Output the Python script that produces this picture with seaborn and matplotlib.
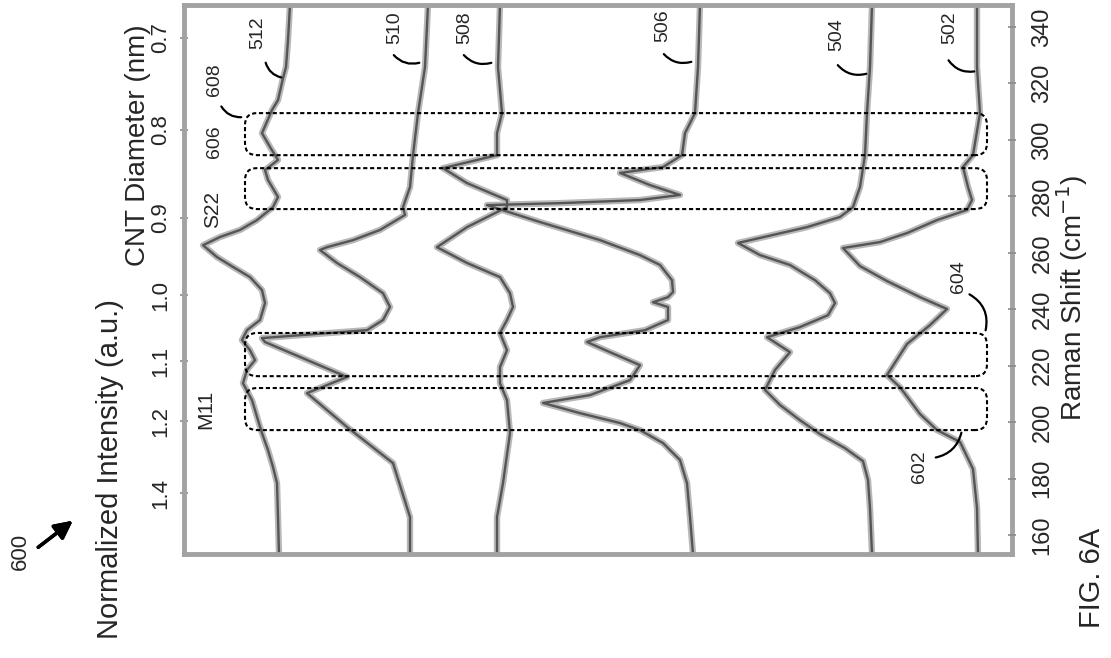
import matplotlib
matplotlib.use("Agg")
import matplotlib.pyplot as plt
import seaborn as sns
import pandas as pd
from matplotlib.patches import FancyBboxPatch
from matplotlib import font_manager

sns.set_theme(style="white")
plt.rcParams['font.family'] = ['Liberation Sans', 'DejaVu Sans']

_names = {f.name for f in font_manager.fontManager.ttflist}
NARROW = 'Liberation Sans Narrow' if 'Liberation Sans Narrow' in _names else 'Liberation Sans'

# ---- spectra: Raman shift (cm^-1) and stacked normalized intensity (a.u.) ----
raman_512 = [347.8, 335.4, 325.8, 321.9, 314.1, 310.6, 302.4, 297.5, 292.9, 289.3, 285.8, 279.8, 276.2,
             271.6, 268.1, 265.6, 262.7, 258.5, 255.0, 251.4, 246.8, 242.2, 236.2, 232.6, 229.1, 225.5,
             222.0, 218.5, 213.8, 207.8, 200.7, 196.1, 190.1, 184.1, 178.4, 166.4, 153.3]
int_512 = [7.22, 7.24, 7.26, 7.29, 7.34, 7.40, 7.50, 7.42, 7.34, 7.47, 7.44, 7.34, 7.39,
           7.55, 7.72, 7.92, 8.09, 7.95, 7.79, 7.62, 7.50, 7.47, 7.52, 7.65, 7.70, 7.62,
           7.57, 7.65, 7.69, 7.60, 7.54, 7.50, 7.44, 7.39, 7.35, 7.34, 7.33]

raman_510 = [347.8, 325.8, 309.5, 294.6, 283.3, 276.2, 273.4, 268.1, 264.5, 262.0, 261.0, 256.4, 251.4,
             245.7, 240.8, 236.2, 232.6, 229.8, 228.4, 216.0, 210.3, 198.3, 185.5, 166.4, 153.3]
int_510 = [5.84, 5.87, 5.94, 5.99, 6.02, 6.09, 6.07, 6.32, 6.59, 6.85, 6.92, 6.75, 6.52,
           6.29, 6.22, 6.29, 6.45, 7.50, 7.47, 6.65, 7.05, 6.65, 6.19, 6.02, 6.02]

raman_508 = [347.8, 325.8, 309.5, 302.4, 294.6, 290.0, 284.7, 278.7, 276.2, 269.1, 262.0, 256.4, 251.4,
             245.7, 240.8, 236.2, 231.6, 225.5, 219.5, 213.8, 207.8, 196.1, 178.4, 166.4, 153.3]
int_508 = [5.12, 5.14, 5.10, 5.15, 5.15, 5.69, 5.45, 5.05, 5.05, 5.45, 5.75, 5.45, 5.12,
           5.02, 4.99, 5.05, 5.12, 5.05, 5.12, 5.12, 5.05, 5.02, 5.09, 5.15, 5.15]

raman_506 = [347.8, 325.8, 309.5, 302.4, 294.6, 290.4, 288.3, 284.0, 280.5, 278.7, 277.6, 276.9, 270.9,
             264.5, 259.2, 255.7, 250.3, 246.1, 244.3, 242.5, 240.8, 236.2, 232.6, 230.1, 228.4, 224.8,
             220.2, 214.9, 209.6, 206.8, 203.2, 199.7, 197.2, 192.6, 186.6, 178.4, 166.4, 153.3]
int_506 = [3.12, 3.14, 3.17, 3.27, 3.30, 3.49, 3.92, 3.62, 3.32, 3.72, 4.52, 5.25, 4.72,
           4.12, 3.72, 3.52, 3.40, 3.39, 3.44, 3.59, 3.44, 3.44, 3.67, 4.12, 4.25, 4.02,
           3.72, 3.82, 4.22, 4.69, 4.32, 3.92, 3.72, 3.49, 3.32, 3.25, 3.22, 3.19]

raman_504 = [347.8, 325.8, 309.5, 294.6, 283.3, 276.2, 272.7, 269.1, 263.5, 259.2, 255.7, 250.3, 245.7,
             242.2, 237.9, 233.7, 230.1, 224.8, 218.5, 211.4, 206.1, 200.7, 195.8, 190.8, 186.2, 179.5,
             169.6, 153.3]
int_504 = [1.40, 1.42, 1.45, 1.47, 1.52, 1.59, 1.72, 2.05, 2.74, 2.52, 2.22, 1.97, 1.82,
           1.77, 1.84, 2.12, 2.45, 2.22, 2.37, 2.47, 2.32, 2.12, 1.92, 1.67, 1.49, 1.44,
           1.42, 1.40]

raman_502 = [347.8, 325.8, 309.5, 294.6, 290.4, 283.3, 278.7, 275.2, 271.6, 267.0, 263.8, 261.7, 255.3,
             250.0, 244.3, 240.1, 234.4, 227.7, 216.7, 212.4, 202.9, 197.2, 193.0, 183.4, 169.6, 153.3]
int_502 = [0.35, 0.35, 0.32, 0.39, 0.49, 0.44, 0.40, 0.45, 0.75, 1.05, 1.32, 1.69, 1.52,
           1.25, 0.92, 0.65, 0.82, 1.05, 1.25, 1.12, 0.92, 0.75, 0.52, 0.39, 0.35, 0.34]

spectrum_names = ['512', '510', '508', '506', '504', '502']

# highlighted Raman windows (cm^-1): 608, 606 (S22) and 604, 602 (M11)
window_ranges = [(294.6, 309.5), (275.5, 290.0), (216.3, 231.6), (197.2, 212.1)]
window_intensity = (0.25, 7.67)

raman_ticks = [160, 180, 200, 220, 240, 260, 280, 300, 320, 340]
diameter_labels = ['1.4', '1.2', '1.1', '1.0', '0.9', '0.8', '0.7']
diameter_raman = [174.9, 200.4, 221.6, 245.0, 272.3, 303.5, 336.1]

# ---- long-form table ----
frames = []
for name, r, v in zip(spectrum_names,
                      [raman_512, raman_510, raman_508, raman_506, raman_504, raman_502],
                      [int_512, int_510, int_508, int_506, int_504, int_502]):
    frames.append(pd.DataFrame({'sample': name, 'raman': r, 'intensity': v}))
df = pd.concat(frames, ignore_index=True)

W, H = 1111, 658
fig = plt.figure(figsize=(W / 100, H / 100), dpi=100)
fig.patch.set_facecolor('white')


def fp(x, y):
    """figure-pixel (origin top-left) to figure fraction"""
    return (x / W, 1 - y / H)


ax = fig.add_axes([184 / W, 1 - 554 / H, (1012 - 184) / W, (554 - 5) / H])

# soft halo + core stroke for each trace
sns.lineplot(data=df, x='intensity', y='raman', units='sample', estimator=None, sort=False,
             color='#b8b8b8', lw=4.6, ax=ax, legend=False)
sns.lineplot(data=df, x='intensity', y='raman', units='sample', estimator=None, sort=False,
             color='#555555', lw=1.7, ax=ax, legend=False)

ax.set_xlim(8.28, 0)
ax.set_ylim(153.3, 347.8)
ax.set_xlabel('')
ax.set_ylabel('')
ax.set_xticks([])

# dashed rounded windows
aspect = (1 / 2.822) / (1 / 100.0)
for lo, hi in window_ranges:
    box = FancyBboxPatch((window_intensity[0], lo), window_intensity[1] - window_intensity[0], hi - lo,
                         boxstyle='round,pad=0,rounding_size=0.12', mutation_aspect=aspect,
                         fill=False, ec='black', lw=1.5, ls=(0, (2.0, 1.3)), zorder=3)
    ax.add_patch(box)

for sp in ax.spines.values():
    sp.set_color('#a2a2a2')
    sp.set_linewidth(3.5)

# CNT diameter scale on the left edge
ax.set_yticks(diameter_raman)
ax.set_yticklabels(diameter_labels)
ax.tick_params(axis='y', left=True, direction='inout', length=6, width=1.2, color='#8a8a8a', pad=6,
               labelsize=16)
for lab in ax.get_yticklabels():
    lab.set_rotation(90)
    lab.set_va('center')

# Raman shift scale on the right edge
ax2 = ax.twinx()
ax2.set_ylim(ax.get_ylim())
ax2.set_yticks(raman_ticks)
ax2.set_yticklabels([str(t) for t in raman_ticks])
ax2.tick_params(axis='y', right=True, direction='inout', length=6, width=1.2, color='#8a8a8a', pad=11,
                labelsize=17)
for lab in ax2.get_yticklabels():
    lab.set_rotation(90)
    lab.set_va('center')
    lab.set_family([NARROW, 'DejaVu Sans'])
for sp in ax2.spines.values():
    sp.set_visible(False)
ax2.grid(False)
ax.grid(False)

# axis titles
fig.text(*fp(110, 469), 'Normalized Intensity (a.u.)', rotation=90, ha='center', va='center', fontsize=21)
fig.text(*fp(138, 145), 'CNT Diameter (nm)', rotation=90, ha='center', va='center', fontsize=20)
fig.text(*fp(1072, 298), 'Raman Shift (cm$^{-1}$)', rotation=90, ha='center', va='center', fontsize=20)
fig.text(*fp(1092, 578), 'FIG. 6A', rotation=90, ha='center', va='center', fontsize=21)
fig.text(*fp(20, 551), '600', rotation=90, ha='center', va='center', fontsize=16)
fig.add_artist(plt.annotate('', xy=fp(75, 519), xytext=fp(36, 549), xycoords='figure fraction',
                            textcoords='figure fraction',
                            arrowprops=dict(arrowstyle='-|>,head_length=0.9,head_width=0.45',
                                            lw=2.5, color='black')))

# reference numerals with leader curves
numerals = [
    ('512', (258, 33), (265, 60), (284, 78)),
    ('510', (395, 28), (392, 53), (422, 62)),
    ('508', (465, 28), (462, 53), (494, 62)),
    ('506', (663, 26), (662, 52), (694, 61)),
    ('504', (837, 35), (836, 63), (869, 73)),
    ('502', (950, 28), (947, 58), (977, 71)),
    ('608', (215, 80), (220, 104), (244, 117)),
]
for txt, c, s, e in numerals:
    fig.text(*fp(*c), txt, rotation=90, ha='center', va='center', fontsize=14)
    ax.annotate('', xy=fp(*e), xytext=fp(*s), xycoords='figure fraction', textcoords='figure fraction',
                arrowprops=dict(arrowstyle='-', lw=1.6, color='black', connectionstyle='arc3,rad=0.35'))

fig.text(*fp(215, 142), '606', rotation=90, ha='center', va='center', fontsize=14)
fig.text(*fp(213, 210), 'S22', rotation=90, ha='center', va='center', fontsize=15)
fig.text(*fp(206, 409), 'M11', rotation=90, ha='center', va='center', fontsize=15)

fig.text(*fp(959, 277), '604', rotation=90, ha='center', va='center', fontsize=14)
ax.annotate('', xy=fp(985, 333), xytext=fp(967, 293), xycoords='figure fraction',
            textcoords='figure fraction',
            arrowprops=dict(arrowstyle='-', lw=1.6, color='black', connectionstyle='arc3,rad=-0.4'))
fig.text(*fp(920, 467), '602', rotation=90, ha='center', va='center', fontsize=14)
ax.annotate('', xy=fp(962, 430), xytext=fp(933, 458), xycoords='figure fraction',
            textcoords='figure fraction',
            arrowprops=dict(arrowstyle='-', lw=1.6, color='black', connectionstyle='arc3,rad=0.35'))

fig.savefig('out.png', dpi=100, facecolor='white')
